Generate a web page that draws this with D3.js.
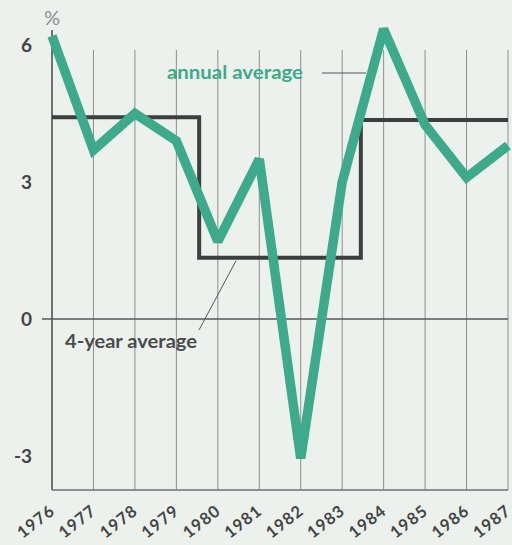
<!DOCTYPE html>
<html>
<head>
<meta charset="utf-8">
<script src="https://cdn.jsdelivr.net/npm/d3@7"></script>
<style>
  html, body { margin: 0; padding: 0; background: #edf1ee; }
  svg { display: block; font-family: Lato, "Open Sans", sans-serif; }
</style>
</head>
<body>
<div id="chart"></div>
<script>
// Data
var years = [1976, 1977, 1978, 1979, 1980, 1981, 1982, 1983, 1984, 1985, 1986, 1987];
var annual = [6.2, 3.7, 4.5, 3.9, 1.7, 3.5, -3.05, 3.0, 6.35, 4.25, 3.1, 3.8];

// 4-year average periods
var periodStart = [1976, 1979.55, 1983.45];
var periodEnd = [1979.55, 1983.45, 1987];
var periodAvg = [4.42, 1.34, 4.36];

var yTicks = [6, 3, 0, -3];

var width = 512, height = 545;

var svg = d3.select("#chart").append("svg")
	.attr("width", width)
	.attr("height", height);

svg.append("rect")
	.attr("width", width)
	.attr("height", height)
	.attr("fill", "#edf1ee");

// Scales
var xScale = d3.scaleLinear().domain([1976, 1987]).range([52, 508]),
	yScale = d3.scaleLinear().domain([-3, 6]).range([456, 45]);

var plotTop = 50, plotBottom = 490;

// vertical grid lines
svg.append("g")
	.selectAll("line")
	.data(years.slice(1))
	.enter().append("line")
	.attr("x1", function(d) { return xScale(d); })
	.attr("x2", function(d) { return xScale(d); })
	.attr("y1", plotTop)
	.attr("y2", plotBottom)
	.attr("stroke", "#8d8f8e")
	.attr("stroke-width", 1);

// left axis line
svg.append("line")
	.attr("x1", xScale(1976)).attr("x2", xScale(1976))
	.attr("y1", 30).attr("y2", plotBottom)
	.attr("stroke", "#6f7170")
	.attr("stroke-width", 2);

// bottom line
svg.append("line")
	.attr("x1", xScale(1976)).attr("x2", xScale(1987))
	.attr("y1", plotBottom).attr("y2", plotBottom)
	.attr("stroke", "#6f7170")
	.attr("stroke-width", 1.5);

// zero line
svg.append("line")
	.attr("x1", 42).attr("x2", xScale(1987))
	.attr("y1", yScale(0)).attr("y2", yScale(0))
	.attr("stroke", "#555757")
	.attr("stroke-width", 1.5);

// y tick labels
svg.append("g")
	.selectAll("text")
	.data(yTicks)
	.enter().append("text")
	.attr("x", 32)
	.attr("y", function(d) { return yScale(d); })
	.attr("dy", "0.36em")
	.attr("text-anchor", "end")
	.style("font-size", "19px")
	.style("font-weight", "700")
	.attr("fill", "#444645")
	.text(function(d) { return d; });

// % unit
svg.append("text")
	.attr("x", 52)
	.attr("y", 25)
	.attr("text-anchor", "middle")
	.style("font-size", "20px")
	.attr("fill", "#8a8c8b")
	.text("%");

// x labels, rotated
svg.append("g")
	.selectAll("text")
	.data(years)
	.enter().append("text")
	.attr("text-anchor", "end")
	.attr("transform", function(d) {
		return "translate(" + (xScale(d) + 4) + ",513) rotate(-38)";
	})
	.style("font-size", "16.5px")
	.style("font-weight", "700")
	.style("letter-spacing", "1px")
	.attr("fill", "#444645")
	.text(function(d) { return d; });

// 4-year average step line
var stepPts = [];
periodAvg.forEach(function(v, i) {
	stepPts.push([periodStart[i], v]);
	stepPts.push([periodEnd[i], v]);
});
var line = d3.line()
	.x(function(d) { return xScale(d[0]); })
	.y(function(d) { return yScale(d[1]); });

svg.append("path")
	.datum(stepPts)
	.attr("d", line)
	.attr("fill", "none")
	.attr("stroke", "#3d3e3e")
	.attr("stroke-width", 4);

// leader lines
svg.append("line")
	.attr("x1", 199).attr("y1", 330)
	.attr("x2", 236).attr("y2", yScale(periodAvg[1]) + 3)
	.attr("stroke", "#555757")
	.attr("stroke-width", 1);

svg.append("line")
	.attr("x1", 322).attr("y1", 73)
	.attr("x2", 366).attr("y2", 73)
	.attr("stroke", "#555757")
	.attr("stroke-width", 1);

// annual average line
svg.append("path")
	.datum(years.map(function(y, i) { return [y, annual[i]]; }))
	.attr("d", line)
	.attr("fill", "none")
	.attr("stroke", "#3daa8c")
	.attr("stroke-width", 9.5)
	.attr("stroke-linejoin", "miter")
	.attr("stroke-miterlimit", 2);

// labels
svg.append("text")
	.attr("x", 167)
	.attr("y", 79)
	.attr("textLength", 136)
	.attr("lengthAdjust", "spacingAndGlyphs")
	.style("font-size", "18px")
	.style("font-weight", "700")
	.attr("fill", "#3daa8c")
	.text("annual average");

svg.append("text")
	.attr("x", 65)
	.attr("y", 348)
	.attr("textLength", 132)
	.attr("lengthAdjust", "spacingAndGlyphs")
	.style("font-size", "18px")
	.style("font-weight", "700")
	.attr("fill", "#4a4c4b")
	.text("4-year average");
</script>
</body>
</html>
